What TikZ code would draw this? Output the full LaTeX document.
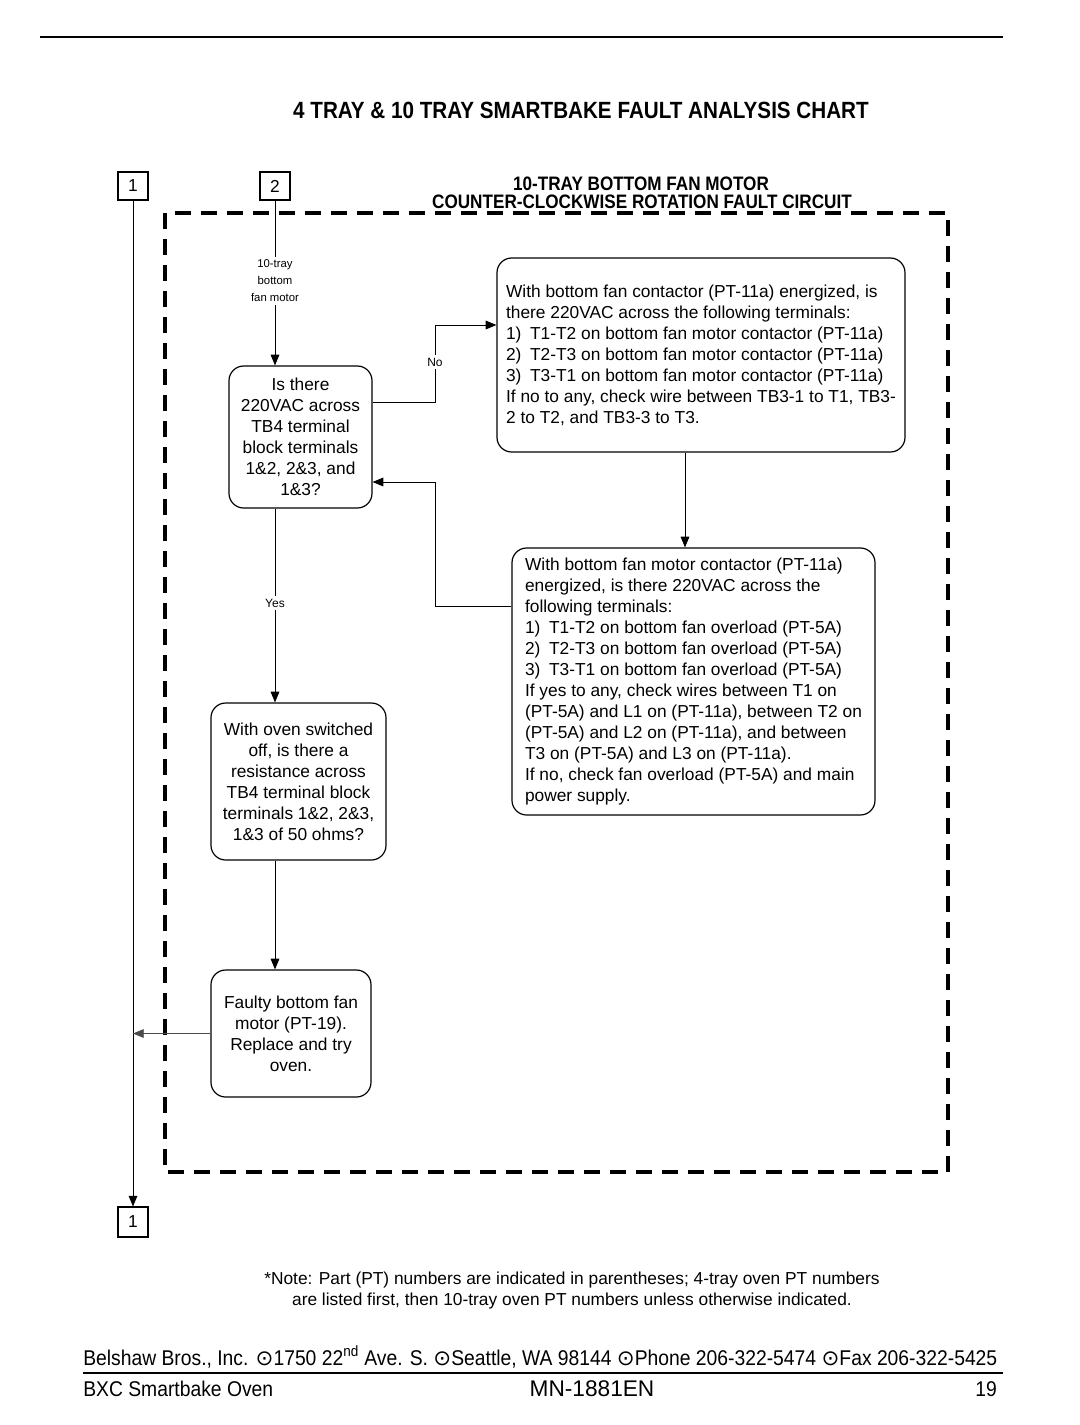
\documentclass[tikz,border=0pt]{standalone}
\usepackage{fontspec}
\setmainfont{Liberation Sans}
\newfontfamily\narrowfont[FakeStretch=0.88]{Liberation Sans}
\newfontfamily\footfamily[FakeStretch=0.905]{Liberation Sans}
\newfontfamily\symfont{DejaVu Sans}
\usetikzlibrary{arrows.meta}

\begin{document}
\begin{tikzpicture}[x=0.75pt,y=0.75pt,yscale=-1,xscale=1,
  qbox/.style={draw, line width=0.9pt, rounded corners=11pt, inner sep=0pt, font=\fontsize{13}{15.75}\selectfont},
  numbox/.style={draw, line width=0.8pt, minimum width=22.5pt, minimum height=21pt, inner sep=0pt, font=\fontsize{13}{15}\selectfont},
  smalllbl/.style={fill=white, inner sep=2pt, align=center, font=\fontsize{8.5}{12.75}\selectfont},
  headfont/.style={font=\narrowfont\bfseries\fontsize{14.6}{16}\selectfont},
  footfont/.style={inner sep=0pt, font=\footfamily\fontsize{16}{18}\selectfont},
  flow/.style={line width=0.6pt},
  tip/.style={-{Triangle[length=8pt,width=6.5pt]}}
]
\useasboundingbox (0,0) rectangle (1080,1425);

%Straight Lines
\draw [line width=1.5pt] (40,37) -- (1003,37) ;

% Text Node
\draw (581,110) node (title) [font=\narrowfont\bfseries\fontsize{17.6}{21}\selectfont] {4 TRAY \& 10 TRAY SMARTBAKE FAULT ANALYSIS CHART};
% Text Node
\draw (641,184) node (hdone) [headfont] {10-TRAY BOTTOM FAN MOTOR};
% Text Node
\draw (642,202) node (hdtwo) [headfont] {COUNTER-CLOCKWISE ROTATION FAULT CIRCUIT};

%Shape: Dashed Rectangle
\draw [line width=2.4pt, dash pattern=on 12pt off 7.5pt] (165,213) rectangle (948,1172) ;

%Shape: Square
\draw (133,186) node (bone) [numbox] {1};
%Shape: Square
\draw (275,186) node (btwo) [numbox] {2};
%Shape: Square
\draw (133,1222) node (bend) [numbox, minimum height=22.5pt] {1};

%Shape: Rounded Rect
\draw (300.5,437) node (qa) [qbox, minimum width=107.25pt, minimum height=106.5pt, align=center] {Is there\\220VAC across\\TB4 terminal\\block terminals\\1\&2, 2\&3, and\\1\&3?};
%Shape: Rounded Rect
\draw (701,355) node (qb) [qbox, minimum width=306pt, minimum height=145.5pt, align=left] {With bottom fan contactor (PT-11a) energized, is\\there 220VAC across the following terminals:\\1)\enspace T1-T2 on bottom fan motor contactor (PT-11a)\\2)\enspace T2-T3 on bottom fan motor contactor (PT-11a)\\3)\enspace T3-T1 on bottom fan motor contactor (PT-11a)\\If no to any, check wire between TB3-1 to T1, TB3-\\2 to T2, and TB3-3 to T3.};
%Shape: Rounded Rect
\draw (693.5,681.5) node (qc) [qbox, minimum width=272.25pt, minimum height=200.25pt, align=left] {With bottom fan motor contactor (PT-11a)\\energized, is there 220VAC across the\\following terminals:\\1)\enspace T1-T2 on bottom fan overload (PT-5A)\\2)\enspace T2-T3 on bottom fan overload (PT-5A)\\3)\enspace T3-T1 on bottom fan overload (PT-5A)\\If yes to any, check wires between T1 on\\(PT-5A) and L1 on (PT-11a), between T2 on\\(PT-5A) and L2 on (PT-11a), and between\\T3 on (PT-5A) and L3 on (PT-11a).\\If no, check fan overload (PT-5A) and main\\power supply.};
%Shape: Rounded Rect
\draw (298.5,781.5) node (qd) [qbox, minimum width=131.25pt, minimum height=117.75pt, align=center] {With oven switched\\off, is there a\\resistance across\\TB4 terminal block\\terminals 1\&2, 2\&3,\\1\&3 of 50 ohms?};
%Shape: Rounded Rect
\draw (291,1033.5) node (qe) [qbox, minimum width=120pt, minimum height=95.25pt, align=center] {Faulty bottom fan\\motor (PT-19).\\Replace and try\\oven.};

% Text Node
\draw (275,281) node (lblmotor) [smalllbl] {10-tray\\bottom\\fan motor};
% Text Node
\draw (435,362) node (no) [smalllbl, font=\fontsize{9}{11}\selectfont] {No};
% Text Node
\draw (275,603) node (yes) [smalllbl, font=\fontsize{9}{11}\selectfont] {Yes};
\coordinate (ret) at (435,482);
\coordinate (bc) at ([xshift=-12pt]qb.south);

%Straight Lines
\draw [flow, tip] (bone) -- (bend) ;
\draw [flow] (btwo) -- (lblmotor) ;
\draw [flow, tip] (lblmotor) -- (btwo |- qa.north) ;
\draw [flow] ([yshift=-26.25pt]qa.east) -| (no) ;
\draw [flow, tip] (no) |- ([yshift=-22.5pt]qb.west) ;
\draw [flow, tip] (bc) -- (bc |- qc.north) ;
\draw [flow, tip] ([yshift=-56pt]qc.west) -| (ret) -- ([yshift=33.75pt]qa.east) ;
\draw [flow] (btwo |- qa.south) -- (yes) ;
\draw [flow, tip] (yes) -- (btwo |- qd.north) ;
\draw [flow, tip] (btwo |- qd.south) -- (btwo |- qe.north) ;
\draw [flow, tip, black!70] (qe.west) -- (bone |- qe.west) ;

% Text Node
\draw (572,1291) node (note) [align=center, font=\fontsize{13}{15.75}\selectfont] {*Note: Part (PT) numbers are indicated in parentheses; 4-tray oven PT numbers\\are listed first, then 10-tray oven PT numbers unless otherwise indicated.};

% Text Node
\draw (83,1357) node (addr) [footfont, anchor=west] {Belshaw Bros., Inc. {\symfont ⊙}1750 22\textsuperscript{nd} Ave. S. {\symfont ⊙}Seattle, WA 98144 {\symfont ⊙}Phone 206-322-5474 {\symfont ⊙}Fax 206-322-5425};
%Straight Lines
\draw [line width=1.2pt] (83,1373) -- (1003,1373) ;
% Text Node
\draw (83,1389) node (oven) [footfont, anchor=west] {BXC Smartbake Oven};
% Text Node
\draw (592,1389) node (manual) [footfont, font=\fontsize{17}{18}\selectfont] {MN-1881EN};
% Text Node
\draw (997,1389) node (page) [footfont, anchor=east] {19};

\end{tikzpicture}
\end{document}
